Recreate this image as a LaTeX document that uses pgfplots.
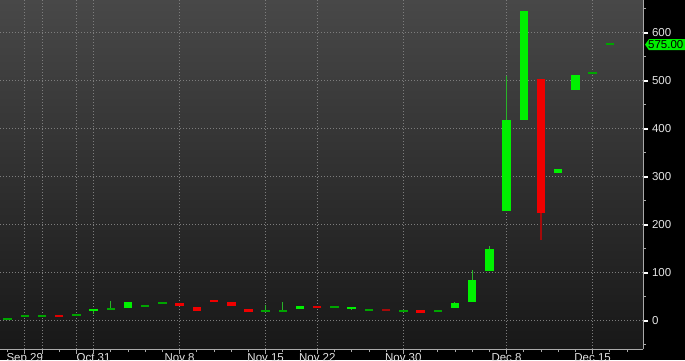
\documentclass[border=0pt]{standalone}
\usepackage{pgfplots}
\pgfplotsset{compat=1.18}
\usepackage{pgfplotstable}
\usepackage{fontspec}
\setmainfont{Liberation Sans}
\definecolor{cgreen}{RGB}{0,240,0}
\definecolor{cdkgreen}{RGB}{0,165,0}
\definecolor{cwickg}{RGB}{40,180,40}
\definecolor{cred}{RGB}{240,0,0}
\definecolor{cdkred}{RGB}{165,10,10}
\definecolor{cmred}{RGB}{225,0,0}
\definecolor{bgtop}{RGB}{72,72,72}
\definecolor{bgbot}{RGB}{24,24,24}
\definecolor{gridc}{RGB}{125,125,125}
\definecolor{axisc}{RGB}{170,170,170}
\definecolor{labc}{RGB}{228,228,228}

% green candles: index open high low close
\pgfplotstableread{
i o h l c
5 19.5 25 14 25
7 27 39 27 39
17 24 30 24 30
20 24.5 28.5 22 28.5
26 26 39 26 36.5
27 38 105 38 84
28 103 155 103 150
29 229 509 229 417
30 417 646 417 646
32 308 315.5 308 315.5
33 480 511 480 511
}\greentbl

% red candles: index open high low close
\pgfplotstableread{
i o h l c
10 36 36 31 31
11 28 28 19.5 19.5
12 44 44 38 38
13 38 38 30 30
14 24.5 24.5 19 19
24 23 23 16 16
31 503 503 169 225
}\redtbl

% green wicks
\pgfplotstableread{
i l h
5 14 25
6 24 40
15 19.5 33
16 21 38
20 22 28.5
26 26 39
27 38 105
28 103 155
29 229 509
}\gwicktbl

% red wicks
\pgfplotstableread{
i l h
18 26 30.5
31 169 225
}\rwicktbl

% dashes (open = close)
\pgfplotstableread{
i v
0 4
1 9
2 9
4 12.5
6 24
8 31
9 36
15 19.5
16 21
19 28
21 23
23 19.5
25 21
34 515
35 576
}\gdashtbl

\pgfplotstableread{
i v
3 10
18 28.5
}\rdashtbl

\pgfplotstableread{
i v
22 21.5
}\drdashtbl

\begin{document}
\begin{tikzpicture}
\useasboundingbox (0,0) rectangle (685pt,360pt);
\clip (0,0) rectangle (685pt,360pt);
\fill[black] (0,0) rectangle (685pt,360pt);
\begin{axis}[
  at={(0pt,11pt)}, anchor=south west,
  scale only axis, width=643pt, height=349pt,
  xmin=-0.44, xmax=36.93, ymin=-59, ymax=668,
  axis background/.style={top color=bgtop, bottom color=bgbot},
  axis x line*=bottom, axis y line*=right,
  axis line style={draw=axisc, line width=0.9pt},
  xtick={1,2,4,5,10,15,18,23,29,34},
  xticklabels={Sep 29,{},{},Oct 31,Nov 8,Nov 15,Nov 22,Nov 30,Dec 8,Dec 15},
  minor xtick={0,...,36},
  ytick={0,100,...,600},
  minor ytick={-50,50,150,...,650},
  grid=major,
  major grid style={draw=gridc, line width=0.9pt, dash pattern=on 1.1pt off 1.9pt},
  tick align=outside,
  major tick length=4.5pt, minor tick length=3pt,
  every tick/.style={draw=axisc, line width=0.8pt},
  every major y tick/.style={draw=white, line width=1.8pt},
  ticklabel style={font=\fontsize{11.5}{12}\selectfont, text=labc},
  /pgf/number format/assume math mode=true,
  xticklabel style={anchor=base, yshift=-8pt},
  yticklabel style={anchor=west, xshift=1pt},
]
% wicks
\addplot[draw=none, error bars/.cd, y dir=both, y explicit, error mark=none,
  error bar style={draw=cwickg, line width=1.1pt}]
  table[x=i, y expr={(\thisrow{h}+\thisrow{l})/2}, y error expr={(\thisrow{h}-\thisrow{l})/2}] {\gwicktbl};
\addplot[draw=none, error bars/.cd, y dir=both, y explicit, error mark=none,
  error bar style={draw=cdkred, line width=1.1pt}]
  table[x=i, y expr={(\thisrow{h}+\thisrow{l})/2}, y error expr={(\thisrow{h}-\thisrow{l})/2}] {\rwicktbl};
% bodies
\addplot[draw=none, error bars/.cd, y dir=both, y explicit, error mark=none,
  error bar style={draw=cgreen, line width=8.5pt}]
  table[x=i, y expr={(\thisrow{o}+\thisrow{c})/2}, y error expr={abs(\thisrow{c}-\thisrow{o})/2}] {\greentbl};
\addplot[draw=none, error bars/.cd, y dir=both, y explicit, error mark=none,
  error bar style={draw=cred, line width=8.5pt}]
  table[x=i, y expr={(\thisrow{o}+\thisrow{c})/2}, y error expr={abs(\thisrow{c}-\thisrow{o})/2}] {\redtbl};
% dashes
\addplot[only marks, mark=-, mark size=4.2pt, mark options={draw=cdkgreen, line width=2pt}]
  table[x=i, y=v] {\gdashtbl};
\addplot[only marks, mark=-, mark size=4.2pt, mark options={draw=cmred, line width=2pt}]
  table[x=i, y=v] {\rdashtbl};
\addplot[only marks, mark=-, mark size=4.2pt, mark options={draw=cdkred, line width=2pt}]
  table[x=i, y=v] {\drdashtbl};
\coordinate (T) at ({rel axis cs:1,0} |- {axis cs:0,575});
\end{axis}
\fill[cgreen] ([xshift=2pt]T) -- ++(4pt,5.5pt) -- ++(50pt,0) -- ++(0,-11pt) -- ++(-50pt,0) -- cycle;
\node[anchor=west, inner sep=0pt, text=black, font=\fontsize{11.5}{12}\selectfont] at ([xshift=5pt]T) {575.00};
\end{tikzpicture}
\end{document}
